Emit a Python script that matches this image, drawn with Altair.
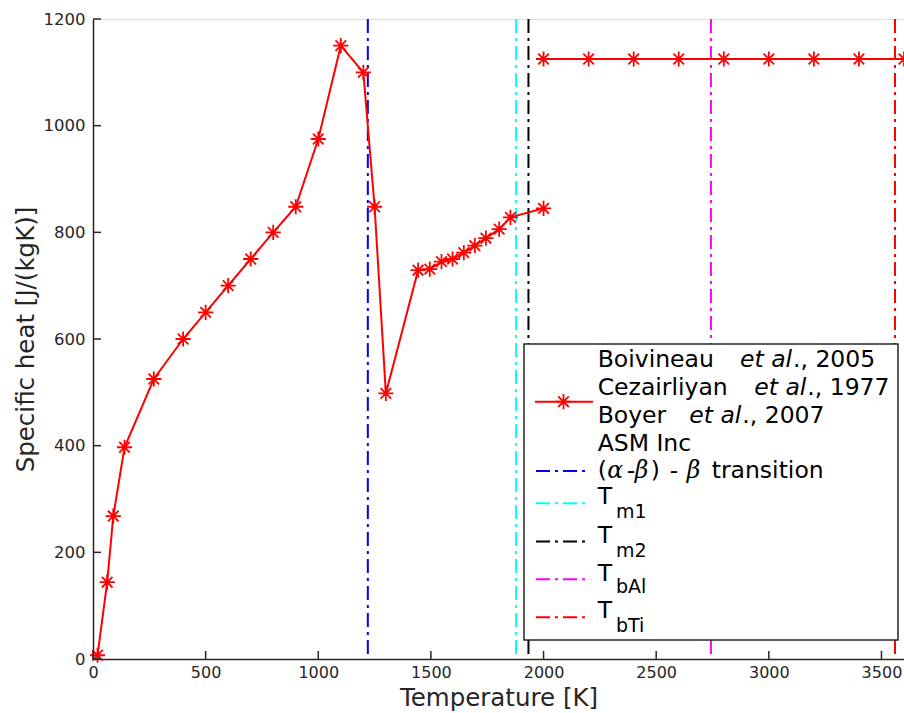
import altair as alt
import pandas as pd

# ---------------- data ----------------
seg_a_T = [20, 63, 90, 140, 270, 400, 500, 600, 700, 800, 900, 1000, 1100, 1200, 1250,
           1300, 1443, 1495, 1547, 1596, 1646, 1695, 1744, 1803, 1853, 2000]
seg_a_cp = [7, 144, 268, 397, 525, 600, 650, 700, 750, 800, 848, 975, 1150, 1100, 848,
            498, 729, 731, 745, 750, 762, 775, 789, 806, 828, 845]
seg_b_T = [2000, 2200, 2400, 2600, 2800, 3000, 3200, 3400, 3600]
seg_b_cp = [1125, 1125, 1125, 1125, 1125, 1125, 1125, 1125, 1125]

vline_names = ["beta transition", "Tm1", "Tm2", "TbAl", "TbTi"]
vline_T = [1220, 1878, 1933, 2743, 3560]
vline_colors = ["#0000ff", "#00ffff", "#000000", "#ff00ff", "#ff0000"]

x_ticks = [0, 500, 1000, 1500, 2000, 2500, 3000, 3500]
y_ticks = [0, 200, 400, 600, 800, 1000, 1200]

legend_refs = [("Boivineau", "et al", "., 2005"),
               ("Cezairliyan", "et al", "., 1977"),
               ("Boyer", "et al", "., 2007")]

# ---------------- layout ----------------
W, H = 811, 640
FONT = "DejaVu Sans"
AX = "#262626"
DASH = [14, 5, 3, 5]
STAR = "M-1,0L1,0M0,-1L0,1M-0.7,-0.7L0.7,0.7M-0.7,0.7L0.7,-0.7"
LFS = 23.5

xs = alt.Scale(domain=[0, 3600], nice=False, zero=False)
ys = alt.Scale(domain=[0, 1200], nice=False)

data = pd.DataFrame({
    "T": seg_a_T + seg_b_T,
    "cp": seg_a_cp + seg_b_cp,
    "seg": ["a"] * len(seg_a_T) + ["b"] * len(seg_b_T),
})
vlines = pd.DataFrame({"T": vline_T, "name": vline_names})

x_enc = alt.X("T:Q", scale=xs, axis=alt.Axis(
    values=x_ticks, grid=False, tickSize=0, labelPadding=5, labelFlush=False,
    labelOverlap=False, format="d", domainColor=AX, domainWidth=1.5,
    labelFont=FONT, labelFontSize=16, labelColor=AX,
    title="Temperature [K]", titleFont=FONT, titleFontSize=24.5,
    titleFontWeight="normal", titleColor=AX, titleY=46,
    titleBaseline="alphabetic"))
y_enc = alt.Y("cp:Q", scale=ys, axis=alt.Axis(
    values=y_ticks, grid=False, tickSize=0, labelPadding=8, labelFlush=False,
    labelOverlap=False, format="d", domainColor=AX, domainWidth=1.5,
    labelFont=FONT, labelFontSize=16.5, labelColor=AX,
    title="Specific heat [J/(kgK)]", titleFont=FONT, titleFontSize=24.5,
    titleFontWeight="normal", titleColor=AX, titleX=-60, titleY=H / 2,
    titleAngle=270, titleAlign="center", titleBaseline="alphabetic"))

rules = alt.Chart(vlines).mark_rule(strokeWidth=2, strokeDash=DASH).encode(
    x=alt.X("T:Q", scale=xs),
    color=alt.Color("name:N", scale=alt.Scale(domain=vline_names, range=vline_colors), legend=None),
)

line = alt.Chart(data).mark_line(color="#ff0000", strokeWidth=2).encode(
    x=x_enc, y=y_enc, detail="seg:N")
pts = alt.Chart(data).mark_point(shape=STAR, size=230, filled=False, color="#ff0000",
                                 strokeWidth=1.8, opacity=1).encode(
    x=alt.X("T:Q", scale=xs), y=alt.Y("cp:Q", scale=ys))

xt = alt.Chart(pd.DataFrame({"v": x_ticks})).mark_rule(color=AX, strokeWidth=1.5).encode(
    x=alt.X("v:Q", scale=xs), y=alt.value(H), y2=alt.value(H - 8))
yt = alt.Chart(pd.DataFrame({"v": y_ticks})).mark_rule(color=AX, strokeWidth=1.5).encode(
    y=alt.Y("v:Q", scale=ys), x=alt.value(0), x2=alt.value(8))

one = pd.DataFrame({"d": [0]})


def txt(s, x, y, size=LFS, style="normal", color="black", font=FONT):
    return alt.Chart(one).mark_text(text=s, align="left", baseline="alphabetic",
                                    font=font, fontSize=size, fontStyle=style,
                                    color=color).encode(x=alt.value(x), y=alt.value(y))


# legend
box = alt.Chart(one).mark_rect(fill="white", stroke="#262626", strokeWidth=1.5).encode(
    x=alt.value(431), x2=alt.value(805), y=alt.value(325), y2=alt.value(621))
leg_line = alt.Chart(one).mark_rule(color="#ff0000", strokeWidth=2).encode(
    x=alt.value(442), x2=alt.value(500), y=alt.value(382.7))
leg_star = alt.Chart(one).mark_point(shape=STAR, size=230, filled=False, color="#ff0000",
                                     strokeWidth=1.8, opacity=1).encode(
    x=alt.value(470.5), y=alt.value(382.7))

TX = 504.7
layers = [rules, line, pts, xt, yt, box, leg_line, leg_star]

ref_pos = [(348, 647, 700), (376, 661.3, 714.3), (403.7, 596.3, 649.3)]
for (name, etal, rest), (by, ex, rx) in zip(legend_refs, ref_pos):
    layers.append(txt(name, TX, by))
    layers.append(txt(etal, ex, by, style="italic"))
    layers.append(txt(rest, rx, by))
layers.append(txt("ASM Inc", TX, 431.7))

# (alpha-beta) - beta transition
by = 458.7
layers += [
    txt("(", TX, by),
    txt("α", TX + 9.5, by, style="italic", font="DejaVu Serif"),
    txt("-", TX + 29, by),
    txt("β", TX + 37, by, style="italic", font="DejaVu Serif"),
    txt(")", TX + 53, by),
    txt("-", TX + 72, by),
    txt("β", TX + 89, by, style="italic", font="DejaVu Serif"),
    txt("transition", TX + 114, by),
]

leg_y = [452, 484.3, 522.5, 560.3, 598.3]
subs = ["m1", "m2", "bAl", "bTi"]
t_base = [485, 523.7, 561.7, 599]
s_base = [499, 537.7, 574.3, 612.7]

for nm, yy, col in zip(vline_names, leg_y, vline_colors):
    layers.append(alt.Chart(one).mark_rule(color=col, strokeWidth=2, strokeDash=DASH).encode(
        x=alt.value(443), x2=alt.value(497), y=alt.value(yy)))
for s, tb, sb in zip(subs, t_base, s_base):
    layers.append(txt("T", TX, tb))
    layers.append(txt(s, 523, sb, size=19))

chart = alt.layer(*layers).properties(
    width=W, height=H,
    padding={"left": 93, "top": 19, "right": 0, "bottom": 54},
    autosize=alt.AutoSizeParams(type="none"),
).configure_view(stroke=None).configure(background="white")

chart.save("out.html", embed_options={"renderer": "svg", "actions": False})
